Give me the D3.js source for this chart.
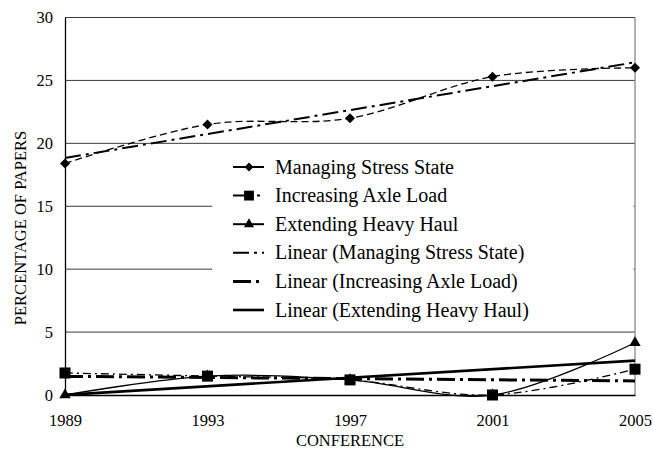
<!DOCTYPE html>
<html>
<head>
<meta charset="utf-8">
<script src="https://cdn.jsdelivr.net/npm/d3@7"></script>
<style>
  body { margin: 0; background: #fff; }
  svg, svg text { font-family: "Liberation Serif", "Times New Roman", "DejaVu Serif", serif; }
</style>
</head>
<body>
<div id="chart"></div>
<script>
const width = 653, height = 450;
const margin = { top: 17.5, right: 18, bottom: 55, left: 65 };

// values
const years = ["1989", "1993", "1997", "2001", "2005"];
const stressState = [18.4, 21.5, 22.0, 25.3, 26.0];
const axleLoad = [1.75, 1.5, 1.2, 0, 2.05];
const heavyHaul = [0, 1.5, 1.2, 0, 4.15];
const yTicks = [0, 5, 10, 15, 20, 25, 30];
const seriesNames = ["Managing Stress State", "Increasing Axle Load", "Extending Heavy Haul"];

const x = d3.scalePoint().domain(years).range([margin.left, width - margin.right]);
const y = d3.scaleLinear().domain([0, 30]).range([height - margin.bottom, margin.top]);

// least squares trend (like Excel's linear trendline)
function trend(vals) {
  const n = vals.length, xs = vals.map((d, i) => i + 1);
  const mx = d3.mean(xs), my = d3.mean(vals);
  const b = d3.sum(xs, (xi, i) => (xi - mx) * (vals[i] - my)) / d3.sum(xs, xi => (xi - mx) ** 2);
  const a = my - b * mx;
  return [a + b * 1, a + b * n];
}

const series = [
  { name: seriesNames[0], values: stressState, marker: d3.symbolDiamond2, msize: 64, dash: "7,4", width: 1.3 },
  { name: seriesNames[1], values: axleLoad, marker: d3.symbolSquare, msize: 121, dash: "8,4,2,4", width: 1.3 },
  { name: seriesNames[2], values: heavyHaul, marker: d3.symbolTriangle, msize: 56, dash: null, width: 1.3 }
];
const trends = [
  { name: "Linear (" + seriesNames[0] + ")", ends: trend(stressState), dash: "16,5,3,5", width: 2 },
  { name: "Linear (" + seriesNames[1] + ")", ends: trend(axleLoad), dash: "18,5,3,5", width: 3 },
  { name: "Linear (" + seriesNames[2] + ")", ends: trend(heavyHaul), dash: null, width: 2.6 }
];

const svg = d3.select("#chart").append("svg").attr("width", width).attr("height", height);

const x0 = margin.left, x1 = width - margin.right;

// gridlines
svg.append("g").selectAll("line").data(yTicks.filter(d => d > 0)).join("line")
  .attr("x1", x0).attr("x2", x1)
  .attr("y1", d => y(d)).attr("y2", d => y(d))
  .attr("stroke", "#3a3a3a").attr("stroke-width", 1);
// right border
svg.append("line").attr("x1", x1).attr("x2", x1).attr("y1", y(30)).attr("y2", y(0))
  .attr("stroke", "#808080").attr("stroke-width", 1.2);

// axes
const yAxis = svg.append("g").attr("transform", `translate(${x0},0)`)
  .call(d3.axisLeft(y).tickValues(yTicks).tickSize(0).tickPadding(12));
const xAxis = svg.append("g").attr("transform", `translate(0,${y(0)})`)
  .call(d3.axisBottom(x).tickSize(0).tickPadding(19));
[yAxis, xAxis].forEach(g => {
  g.attr("font-family", null).attr("font-size", null);
  g.select(".domain").attr("stroke", "#000").attr("stroke-width", 1.3);
  g.selectAll("text").attr("font-size", 16.5).attr("fill", "#000");
});

// axis titles
svg.append("text").attr("x", (x0 + x1) / 2).attr("y", 446)
  .attr("text-anchor", "middle").attr("font-size", 16.5).text("CONFERENCE");
svg.append("text").attr("transform", "translate(26,228) rotate(-90)")
  .attr("text-anchor", "middle").attr("font-size", 16.5).text("PERCENTAGE OF PAPERS");

// legend background (drawn before lines so lines pass over it)
const lg = { x: 212, y: 153, w: x1 - 1.5 - 212, h: 172, row: 28.6 };
svg.append("rect").attr("x", lg.x).attr("y", lg.y).attr("width", lg.w).attr("height", lg.h).attr("fill", "#fff");

// trendlines
trends.forEach(t => {
  svg.append("line")
    .attr("x1", x(years[0])).attr("x2", x(years[years.length - 1]))
    .attr("y1", y(t.ends[0])).attr("y2", y(t.ends[1]))
    .attr("stroke", "#000").attr("stroke-width", t.width)
    .attr("stroke-dasharray", t.dash);
});

// smoothed series lines
const line = d3.line().x((d, i) => x(years[i])).y(d => y(d)).curve(d3.curveCardinal.tension(0));
series.forEach(s => {
  svg.append("path").datum(s.values).attr("d", line)
    .attr("fill", "none").attr("stroke", "#000").attr("stroke-width", s.width)
    .attr("stroke-dasharray", s.dash);
});
series.forEach(s => {
  svg.append("g").selectAll("path").data(s.values).join("path")
    .attr("transform", (d, i) => `translate(${x(years[i])},${y(d)})`)
    .attr("d", d3.symbol(s.marker, s.msize)).attr("fill", "#000");
});

// legend entries
const legendItems = series.map(s => ({ name: s.name, dash: null, width: 2, marker: s.marker, msize: s.msize * 0.8 }))
  .concat(trends.map(t => ({ name: t.name, dash: t.dash, width: t.width })));
legendItems[1].dash = "18,6,3,6";
legendItems.forEach((d, i) => {
  const cy = lg.y + 14 + i * lg.row;
  svg.append("line").attr("x1", 233).attr("x2", 264).attr("y1", cy).attr("y2", cy)
    .attr("stroke", "#000").attr("stroke-width", d.width).attr("stroke-dasharray", d.dash);
  if (d.marker) {
    svg.append("path").attr("transform", `translate(249,${cy})`)
      .attr("d", d3.symbol(d.marker, d.msize)).attr("fill", "#000");
  }
  svg.append("text").attr("x", 275).attr("y", cy + 6.5).attr("font-size", 20).text(d.name);
});
</script>
</body>
</html>
